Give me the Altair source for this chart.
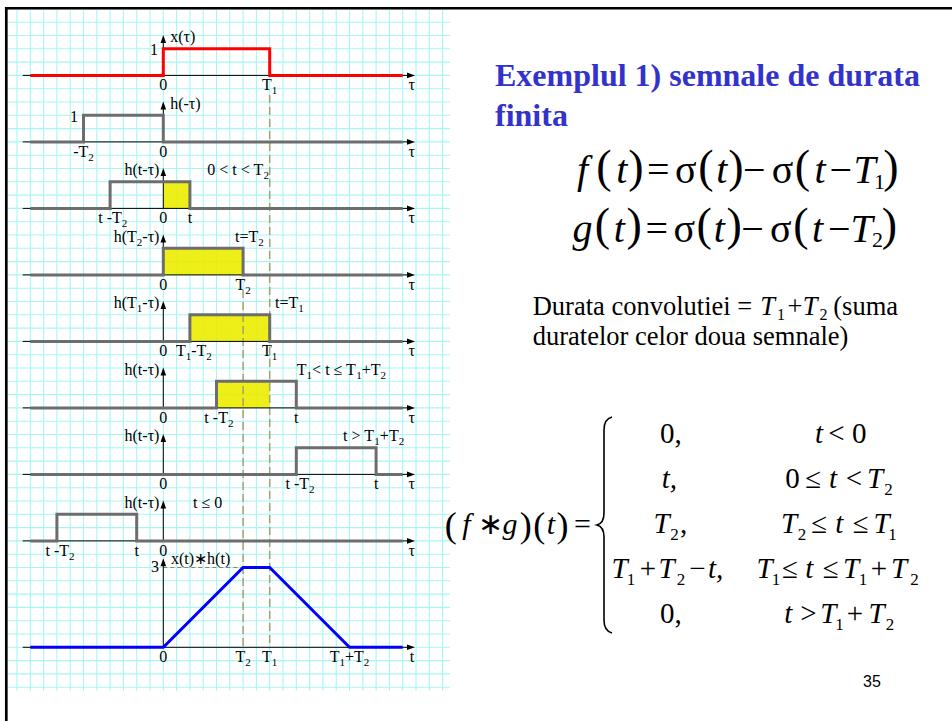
import altair as alt
import numpy as np
import pandas as pd

# ---------------------------------------------------------------------------
# Signals (one tau unit = two grid cells)
# ---------------------------------------------------------------------------
T1 = 4
T2 = 3

# x(tau): rectangular pulse of length T1
x_tau = [-5, 0, 0, 4, 4, 9]
x_amp = [0, 0, 1, 1, 0, 0]

# h(t - tau) for the successive shifts, breakpoints in tau
h_taus = [
    [-5, -3, -3, 0, 0, 9],     # h(-tau)
    [-5, -2, -2, 1, 1, 9],     # 0 < t < T2   (t = 1)
    [-5, 0, 0, 3, 3, 9],       # t = T2
    [-5, 1, 1, 4, 4, 9],       # t = T1
    [-5, 2, 2, 5, 5, 9],       # T1 < t <= T1+T2   (t = 5)
    [-5, 5, 5, 8, 8, 9],       # t > T1+T2   (t = 8)
    [-5, -4, -4, -1, -1, 9],   # t <= 0   (t = -1)
]
h_amp = [0, 0, 1, 1, 0, 0]

# result of the convolution
conv_tau = [-5, 0, 3, 4, 7, 9]
conv_amp = [0, 0, 3, 3, 0, 0]

# shaded overlap of x(tau) and h(t - tau)
overlap_panel = [2, 3, 4, 5]
overlap_start = [0, 0, 1, 2]
overlap_end = [1, 3, 4, 4]

# vertical position of every tau axis (0 = top panel, 8 = result)
panel_base = [21.5, 19, 16.5, 14, 11.5, 9, 6.5, 4, 0]

# ---------------------------------------------------------------------------
# Canvas geometry
# ---------------------------------------------------------------------------
W, H = 952, 721
X0, Y0, UNIT = 163.3, 647.3, 26.6


def U(px):
    return (px - X0) / UNIT


def V(py):
    return (Y0 - py) / UNIT


def PX(u):
    return X0 + u * UNIT


def PY(v):
    return Y0 - v * UNIT


XS = alt.Scale(domain=[U(0), U(W)], nice=False, zero=False)
YS = alt.Scale(domain=[V(H), V(0)], nice=False, zero=False)


def X(f="u"):
    return alt.X(f"{f}:Q", scale=XS, axis=None)


def Y(f="v"):
    return alt.Y(f"{f}:Q", scale=YS, axis=None)


layers = []

# --- graph paper ---------------------------------------------------------
gx = np.arange(-5.5, 10.51, 0.5)
gy = np.arange(-1.5, 24.01, 0.5)
grid_v = pd.DataFrame({"u": gx, "v1": V(10), "v2": V(690.7)})
grid_h = pd.DataFrame({"v": gy, "u1": U(7.7), "u2": U(450)})
GRID = "#a6f6f6"
layers.append(alt.Chart(grid_v).mark_rule(color=GRID, strokeWidth=1.1).encode(
    x=X("u"), y=Y("v1"), y2="v2:Q"))
layers.append(alt.Chart(grid_h).mark_rule(color=GRID, strokeWidth=1.1).encode(
    y=Y("v"), x=X("u1"), x2="u2:Q"))

# --- yellow overlap areas (graph paper stays faintly visible) -------------
ov = pd.DataFrame({
    "u0": overlap_start, "u1": overlap_end,
    "v0": [panel_base[p] for p in overlap_panel],
    "v1": [panel_base[p] + 1 for p in overlap_panel],
})
layers.append(alt.Chart(ov).mark_rect(color="#ecec00", opacity=0.9).encode(
    x=X("u0"), x2="u1:Q", y=Y("v0"), y2="v1:Q"))

# --- dashed guides at T2 and T1 ---------------------------------------------
guides = pd.DataFrame({"u": [T2, T1], "top": [V(290), V(95)], "bot": [0, 0]})
layers.append(alt.Chart(guides).mark_rule(
    color="#a8a070", strokeWidth=1.5, strokeDash=[8, 4]).encode(
    x=X("u"), y=Y("top"), y2="bot:Q"))
peak = pd.DataFrame({"u0": [0], "u1": [T2], "v": [conv_amp[2]]})
layers.append(alt.Chart(peak).mark_rule(
    color="#8c8660", strokeWidth=1, strokeDash=[4, 3]).encode(
    x=X("u0"), x2="u1:Q", y=Y("v")))

# --- axes -------------------------------------------------------------------
ax_h = pd.DataFrame({"v": panel_base, "u0": U(22.7), "u1": U(409)})
y_len = [1.37] * 8 + [3.2]
ax_v = pd.DataFrame({"u": 0, "v0": panel_base,
                     "v1": [b + l for b, l in zip(panel_base, y_len)]})
layers.append(alt.Chart(ax_h).mark_rule(color="black", strokeWidth=1).encode(
    x=X("u0"), x2="u1:Q", y=Y("v")))
layers.append(alt.Chart(ax_v).mark_rule(color="black", strokeWidth=1).encode(
    x=X("u"), y=Y("v0"), y2="v1:Q"))

ARROW_R = "M-1,-0.7L1,0L-1,0.7Z"
ARROW_U = "M-0.7,1L0,-1L0.7,1Z"
arr_r = pd.DataFrame({"u": U(411), "v": panel_base})
arr_u = pd.DataFrame({"u": 0, "v": ax_v["v1"]})
layers.append(alt.Chart(arr_r).mark_point(
    shape=ARROW_R, filled=True, color="black", size=64, opacity=1).encode(
    x=X(), y=Y()))
layers.append(alt.Chart(arr_u).mark_point(
    shape=ARROW_U, filled=True, color="black", size=64, opacity=1).encode(
    x=X(), y=Y()))

# --- signal traces ------------------------------------------------------------
rows = []
for k, taus in enumerate(h_taus):
    p = k + 1
    for i, (t, a) in enumerate(zip(taus, h_amp)):
        rows.append({"panel": p, "i": i, "u": t, "v": panel_base[p] + a})
gray = pd.DataFrame(rows)
red = pd.DataFrame({"i": range(len(x_tau)), "u": x_tau,
                    "v": [panel_base[0] + a for a in x_amp]})
blue = pd.DataFrame({"i": range(len(conv_tau)), "u": conv_tau,
                     "v": [panel_base[8] + a for a in conv_amp]})
layers.append(alt.Chart(gray).mark_line(color="#6d6d6d", strokeWidth=3).encode(
    x=X(), y=Y(), detail="panel:N", order="i:Q"))
layers.append(alt.Chart(red).mark_line(color="#ff0000", strokeWidth=3).encode(
    x=X(), y=Y(), order="i:Q"))
layers.append(alt.Chart(blue).mark_line(color="#0000ff", strokeWidth=3).encode(
    x=X(), y=Y(), order="i:Q"))

# ---------------------------------------------------------------------------
# Text: every piece is (x px, baseline px, text, size, italic, align)
# Liberation Serif shares Times New Roman advance widths (per 1000 em).
# ---------------------------------------------------------------------------
ADV = {" ": 250, "(": 333, ")": 333, "-": 333, "+": 564, "<": 564, ">": 564,
       "=": 564, "≤": 549, "h": 500, "x": 500, "t": 278, "T": 611, "τ": 440,
       "∗": 500}
pieces = []


def adv(s, fs):
    return sum(ADV.get(c, 500) for c in s) * fs / 1000


def rich(label, x, y, align, fs=16, sfs=11, sdy=4):
    """Place a label where '_d' marks a subscript character."""
    runs, buf, i = [], "", 0
    while i < len(label):
        if label[i] == "_":
            if buf:
                runs.append((buf, False))
                buf = ""
            runs.append((label[i + 1], True))
            i += 2
        else:
            buf += label[i]
            i += 1
    if buf:
        runs.append((buf, False))
    total = sum(adv(t, sfs if s else fs) for t, s in runs)
    cur = x - {"left": 0, "center": total / 2, "right": total}[align]
    for t, s in runs:
        size = sfs if s else fs
        pieces.append({"x": cur, "y": y + (sdy if s else 0), "text": t,
                       "fs": size, "it": False, "align": "left"})
        cur += adv(t, size)


# --- axis labels ----------------------------------------------------------------
BELOW = 14.7
ABOVE = 33
below = [
    (0, 0, "0"), (0, 4, "T_1"),
    (1, -3, "-T_2"), (1, 0, "0"),
    (2, -1.9, "t -T_2"), (2, 0, "0"), (2, 1, "t"),
    (3, 0, "0"), (3, 3, "T_2"),
    (4, 0, "0"), (4, 1.15, "T_1-T_2"), (4, 4, "T_1"),
    (5, 0, "0"), (5, 2.09, "t -T_2"), (5, 5, "t"),
    (6, 0, "0"), (6, 5.14, "t -T_2"), (6, 8, "t"),
    (7, -3.88, "t -T_2"), (7, -1, "t"), (7, 0, "0"),
    (8, 0, "0"), (8, 3, "T_2"), (8, 4, "T_1"), (8, 7, "T_1+T_2"),
]
below += [(p, 9.35, "τ") for p in range(8)] + [(8, 9.35, "t")]
for p, u, s in below:
    rich(s, PX(u), PY(panel_base[p]) + BELOW, "center")

left_labels = [
    (0, 0.26, "x(τ)"), (1, 0.26, "h(-τ)"),
    (2, 1.65, "0 < t < T_2"), (3, 2.7, "t=T_2"), (4, 4.2, "t=T_1"),
    (5, 5.02, "T_1< t ≤ T_1+T_2"), (6, 6.76, "t > T_1+T_2"), (7, 1.12, "t ≤ 0"),
]
for p, u, s in left_labels:
    rich(s, PX(u), PY(panel_base[p]) - ABOVE, "left")
rich("x(t)∗h(t)", 171, 564, "left")

right_labels = [(2, "h(t-τ)"), (3, "h(T_2-τ)"), (4, "h(T_1-τ)"),
                (5, "h(t-τ)"), (6, "h(t-τ)"), (7, "h(t-τ)")]
for p, s in right_labels:
    rich(s, 160, PY(panel_base[p]) - ABOVE, "right")
rich("1", 158, PY(panel_base[0]) - 20.3, "right")
rich("1", 78, PY(panel_base[1]) - 20.3, "right")
rich("3", 159, 572, "right")


# --- formulas: (text, kind, centre x) placed on a common baseline ----------------
def add_row(items, base, sizes, par_dy, sub_dy):
    for txt, kind, cx in items:
        dy = par_dy if kind == "par" else (sub_dy if kind == "sub" else 0)
        pieces.append({"x": cx, "y": base + dy, "text": txt, "fs": sizes[kind],
                       "it": kind == "it", "align": "center"})


def sigma_row(fn, fx, sub, subx):
    return [
        (fn, "it", 582.5), ("(", "par", fx[0]), ("t", "it", fx[1]),
        (")", "par", fx[2]), ("=", "rm", fx[3]), ("σ", "rm", fx[4]),
        ("(", "par", fx[5]), ("t", "it", fx[6]), (")", "par", fx[7]),
        ("−", "rm", fx[8]), ("σ", "rm", fx[9]), ("(", "par", fx[10]),
        ("t", "it", fx[11]), ("−", "rm", fx[12]), ("T", "it", fx[13]),
        (sub, "sub", subx), (")", "par", fx[14]),
    ]


SIZES = {"it": 40, "rm": 40, "par": 46, "sub": 22}
add_row(sigma_row("f", [604, 621.7, 635.8, 658.3, 685.8, 705.8, 721.7, 735.8,
                        754.2, 782.5, 802.5, 820, 840.8, 864.5, 891], "1", 879.5),
        183, SIZES, -1.5, 5.5)
add_row(sigma_row("g", [602.5, 619.2, 634.2, 656.7, 684.2, 704.2, 719.2, 734.2,
                        752.5, 780.8, 800.8, 817.5, 839.2, 861.5, 889.5], "2", 877.5),
        241.5, SIZES, -1.5, 5.5)

# "Durata convolutiei = T1+T2 (suma"
DSIZES = {"it": 26.5, "rm": 26.5, "par": 26.5, "sub": 16}
add_row([("T", "it", 767.5), ("1", "sub", 781), ("+", "rm", 795),
         ("T", "it", 810), ("2", "sub", 823.5)], 315, DSIZES, 0, 5)

# piecewise result
PSIZES = {"it": 29, "rm": 29, "par": 36, "sub": 17}
LSIZES = {"it": 30, "rm": 30, "par": 36, "sub": 17}
add_row([("(", "par", 450.8), ("f", "it", 466.5), ("∗", "rm", 490.5),
         ("g", "it", 510), (")", "par", 525.8), ("(", "par", 539.2),
         ("t", "it", 550.8), (")", "par", 562.5), ("=", "rm", 582.5)],
        534, LSIZES, 3, 7)
rows_y = [443.3, 488.3, 533.3, 578.3, 623.3]
add_row([("t", "it", 819), ("<", "rm", 836.5), ("0", "rm", 859.2)],
        rows_y[0], PSIZES, 0, 7)
add_row([("0", "rm", 792.5), ("≤", "rm", 813.3), ("t", "it", 833),
         ("<", "rm", 854), ("T", "it", 875), ("2", "sub", 888.5)],
        rows_y[1], PSIZES, 0, 7)
add_row([("T", "it", 661.5), ("2", "sub", 674.5), (",", "rm", 683.5),
         ("T", "it", 789), ("2", "sub", 802), ("≤", "rm", 819.2),
         ("t", "it", 839.2), ("≤", "rm", 860.8), ("T", "it", 881.5),
         ("1", "sub", 892.5)], rows_y[2], PSIZES, 0, 7)
add_row([("T", "it", 619.5), ("1", "sub", 631), ("+", "rm", 647.8),
         ("T", "it", 666.5), ("2", "sub", 681), ("−", "rm", 697.5),
         ("T", "it", 764.5), ("1", "sub", 776), ("≤", "rm", 790),
         ("t", "it", 809.2), ("≤", "rm", 830.8), ("T", "it", 851),
         ("1", "sub", 863), ("+", "rm", 879), ("T", "it", 899),
         ("2", "sub", 914.5)], rows_y[3], PSIZES, 0, 7)
add_row([("t", "it", 788.3), (">", "rm", 808.3), ("T", "it", 828.2),
         ("1", "sub", 839.5), ("+", "rm", 855), ("T", "it", 876.5),
         ("2", "sub", 890)], rows_y[4], PSIZES, 0, 7)

# plain runs
for x, y, s, fs, it in [
    (532.7, 315, "Durata convolutiei =", 26.5, False),
    (833.3, 315, "(suma", 26.5, False),
    (532.7, 345, "duratelor celor doua semnale)", 26.5, False),
    (660, rows_y[0], "0,", 29, False),
    (661.7, rows_y[1], "t,", 29, True),
    (708, rows_y[3], "t,", 29, True),
    (660, rows_y[4], "0,", 29, False),
]:
    pieces.append({"x": x, "y": y, "text": s, "fs": fs, "it": it, "align": "left"})

txt = pd.DataFrame(pieces)
txt["u"] = U(txt["x"])
txt["v"] = V(txt["y"])
for (fs, it, al), grp in txt.groupby(["fs", "it", "align"]):
    kw = dict(font="Liberation Serif", fontSize=float(fs), align=al,
              baseline="alphabetic", color="black")
    if it:
        kw["fontStyle"] = "italic"
    layers.append(alt.Chart(grp[["u", "v", "text"]]).mark_text(**kw).encode(
        x=X(), y=Y(), text="text:N"))

# --- slide title --------------------------------------------------------------------
title = pd.DataFrame({"u": [U(495), U(495)], "v": [V(86), V(126)],
                      "text": ["Exemplul 1) semnale de durata", "finita"]})
layers.append(alt.Chart(title).mark_text(
    font="Liberation Serif", fontSize=32, fontWeight="bold", color="#3333cc",
    align="left", baseline="alphabetic").encode(x=X(), y=Y(), text="text:N"))

# curly brace of the piecewise definition
BRACE = ("M0.074,-0.997Q0,-0.979 0,-0.877L0,-0.111Q0,-0.018 -0.065,0"
         "Q0,0.018 0,0.111L0,0.877Q0,0.979 0.074,0.997")
brace = pd.DataFrame({"u": [U(604)], "v": [V(525)]})
layers.append(alt.Chart(brace).mark_point(
    shape=BRACE, size=216.6 ** 2, filled=False, color="black",
    strokeWidth=1.6, opacity=1).encode(x=X(), y=Y()))

# slide number
num = pd.DataFrame({"u": [U(863)], "v": [V(686.7)], "text": ["35"]})
layers.append(alt.Chart(num).mark_text(
    font="Liberation Sans", fontSize=16, align="left", baseline="alphabetic",
    color="black").encode(x=X(), y=Y(), text="text:N"))

# slide frame (top and left edges)
one = pd.DataFrame({"a": [0]})
layers.append(alt.Chart(one).mark_rule(color="black", strokeWidth=2.6).encode(
    x=alt.value(5), x2=alt.value(W), y=alt.value(8.3)))
layers.append(alt.Chart(one).mark_rule(color="black", strokeWidth=2.7).encode(
    x=alt.value(6.3), y=alt.value(7), y2=alt.value(H)))

chart = alt.layer(*layers).properties(
    width=W, height=H, padding=0, autosize="none", background="white"
).configure_view(stroke=None)

chart.save("out.html", embed_options={"renderer": "svg", "actions": False})
